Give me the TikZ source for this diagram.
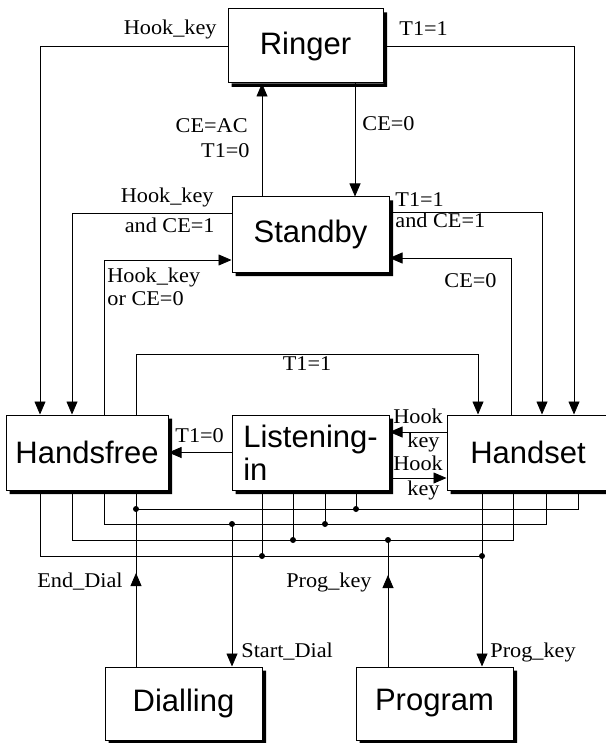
\documentclass[tikz,border=0pt]{standalone}
\usepackage{fontspec}
\setmainfont{Liberation Serif}[FakeStretch=1.06]
\newfontfamily\statefont{Liberation Sans}
\usetikzlibrary{arrows.meta,calc}

\begin{document}
\begin{tikzpicture}[x=1pt, y=-1pt, line width=0.8pt, >={Triangle[length=13pt,width=11pt]},
  state/.style={draw, line width=1pt, fill=white, minimum width=157pt, minimum height=75pt, font=\statefont\fontsize{31}{33}\selectfont},
  cond/.style={inner sep=0pt, font=\fontsize{21}{24}\selectfont}]
\useasboundingbox (0,0) rectangle (605,743);

\node[state, minimum width=155pt, minimum height=74pt] (ringer) at (305.5,46) {Ringer};
\node[state] (standby) at (310.5,234.5) {Standby};
\node[state, minimum width=162pt] (handsfree) at (87,452.5) {Handsfree};
\node[state, align=left] (listen) at (310.5,452.5) {Listening-\\in};
\node[state, minimum width=162pt] (handset) at (528,452.5) {Handset};
\node[state, minimum height=73pt] (dialling) at (183.5,703.5) {Dialling};
\node[state, minimum height=73pt] (program) at (434.5,703.5) {Program};
% shadows
\foreach \n in {ringer, standby, handsfree, listen, handset, dialling, program}
  \fill (\n.north east) ++(0,4) rectangle ($(\n.south east)+(3.5,3.5)$)
        (\n.south west) ++(4,0) rectangle ($(\n.south east)+(3.5,3.5)$);

% Ringer and Standby
\draw[->] (ringer.west) -| (handsfree.north -| 40,0);
\draw[->] (ringer.east) -| (handset.north -| 574,0);
\draw[->] (ringer.south -| 355,0) -- (standby.north -| 355,0);
\draw[->] (standby.north -| 262,0) -- (ringer.south -| 262,0);
\draw[->] (standby.west |- 0,213) -| (handsfree.north -| 72,0);
\draw[->] (standby.east |- 0,212) -| (handset.north -| 542,0);
\draw[->] (handsfree.north -| 104,0) |- (standby.west |- 0,260);
\draw[->] (handset.north -| 511,0) |- (standby.east |- 0,258);
\draw[->] (handsfree.north -| 136,0) -- (136,354) -| (handset.north -| 478,0);

% middle row
\draw[->] (listen.west) -- (handsfree.east);
\draw[->] (handset.west |- 0,432) -- (listen.east |- 0,432);
\draw[->] (listen.east |- 0,478) -- (handset.west |- 0,478);

% bus
\draw (handsfree.south -| 40,0) |- (482,556);
\draw (handsfree.south -| 72,0) |- (513,540) -- (handset.south -| 513,0);
\draw (handsfree.south -| 104,0) |- (546,524) -- (handset.south -| 546,0);
\draw (handset.south -| 578,0) |- (136,509);
\foreach \x/\y in {262/556, 293/540, 325/524, 356/509}
  \draw (listen.south -| \x,0) -- (\x,\y);
\draw (handsfree.south -| 136,0) -- (dialling.north -| 136,0);
\draw[->] (dialling.north -| 136,0) -- (136,573);
\draw[->] (232,524) -- (dialling.north -| 232,0);
\draw (program.north -| 388,0) -- (388,540);
\draw[->] (program.north -| 388,0) -- (388,575);
\draw[->] (handset.south -| 482,0) -- (program.north -| 482,0);
\foreach \x/\y in {136/509, 356/509, 232/524, 325/524, 293/540, 388/540, 262/556, 482/556}
  \fill (\x,\y) circle (3pt);

% conditions
\node[cond, anchor=base east] (hookA) at (217,35) {Hook\_key};
\node[cond, anchor=base west] (tA) at (399,36) {T1=1};
\node[cond, anchor=base east] (ceac) at (248,133) {CE=AC};
\node[cond, anchor=base east] (tB) at (250,158) {T1=0};
\node[cond, anchor=base west] (ceA) at (362,131) {CE=0};
\node[cond, anchor=base east] (hookB) at (214,203) {Hook\_key};
\node[cond, anchor=base east] (andA) at (215,233) {and CE=1};
\node[cond, anchor=base west] (tC) at (395,207) {T1=1};
\node[cond, anchor=base west] (andB) at (395,227) {and CE=1};
\node[cond, anchor=base west] (hookC) at (107,282) {Hook\_key};
\node[cond, anchor=base west] (orce) at (107,305) {or CE=0};
\node[cond, anchor=base east] (ceB) at (497,287) {CE=0};
\node[cond, anchor=base] (tD) at (307,370) {T1=1};
\node[cond, anchor=base west] (tE) at (175,442) {T1=0};
\node[cond, anchor=base west] (hookD) at (393,423) {Hook};
\node[cond, anchor=base west] (keyD) at (407,447) {key};
\node[cond, anchor=base west] (hookE) at (393,470) {Hook};
\node[cond, anchor=base west] (keyE) at (407,495) {key};
\node[cond, anchor=base east] (endd) at (123,587) {End\_Dial};
\node[cond, anchor=base west] (startd) at (241,657) {Start\_Dial};
\node[cond, anchor=base east] (progA) at (372,587) {Prog\_key};
\node[cond, anchor=base west] (progB) at (490,657) {Prog\_key};
\end{tikzpicture}
\end{document}
